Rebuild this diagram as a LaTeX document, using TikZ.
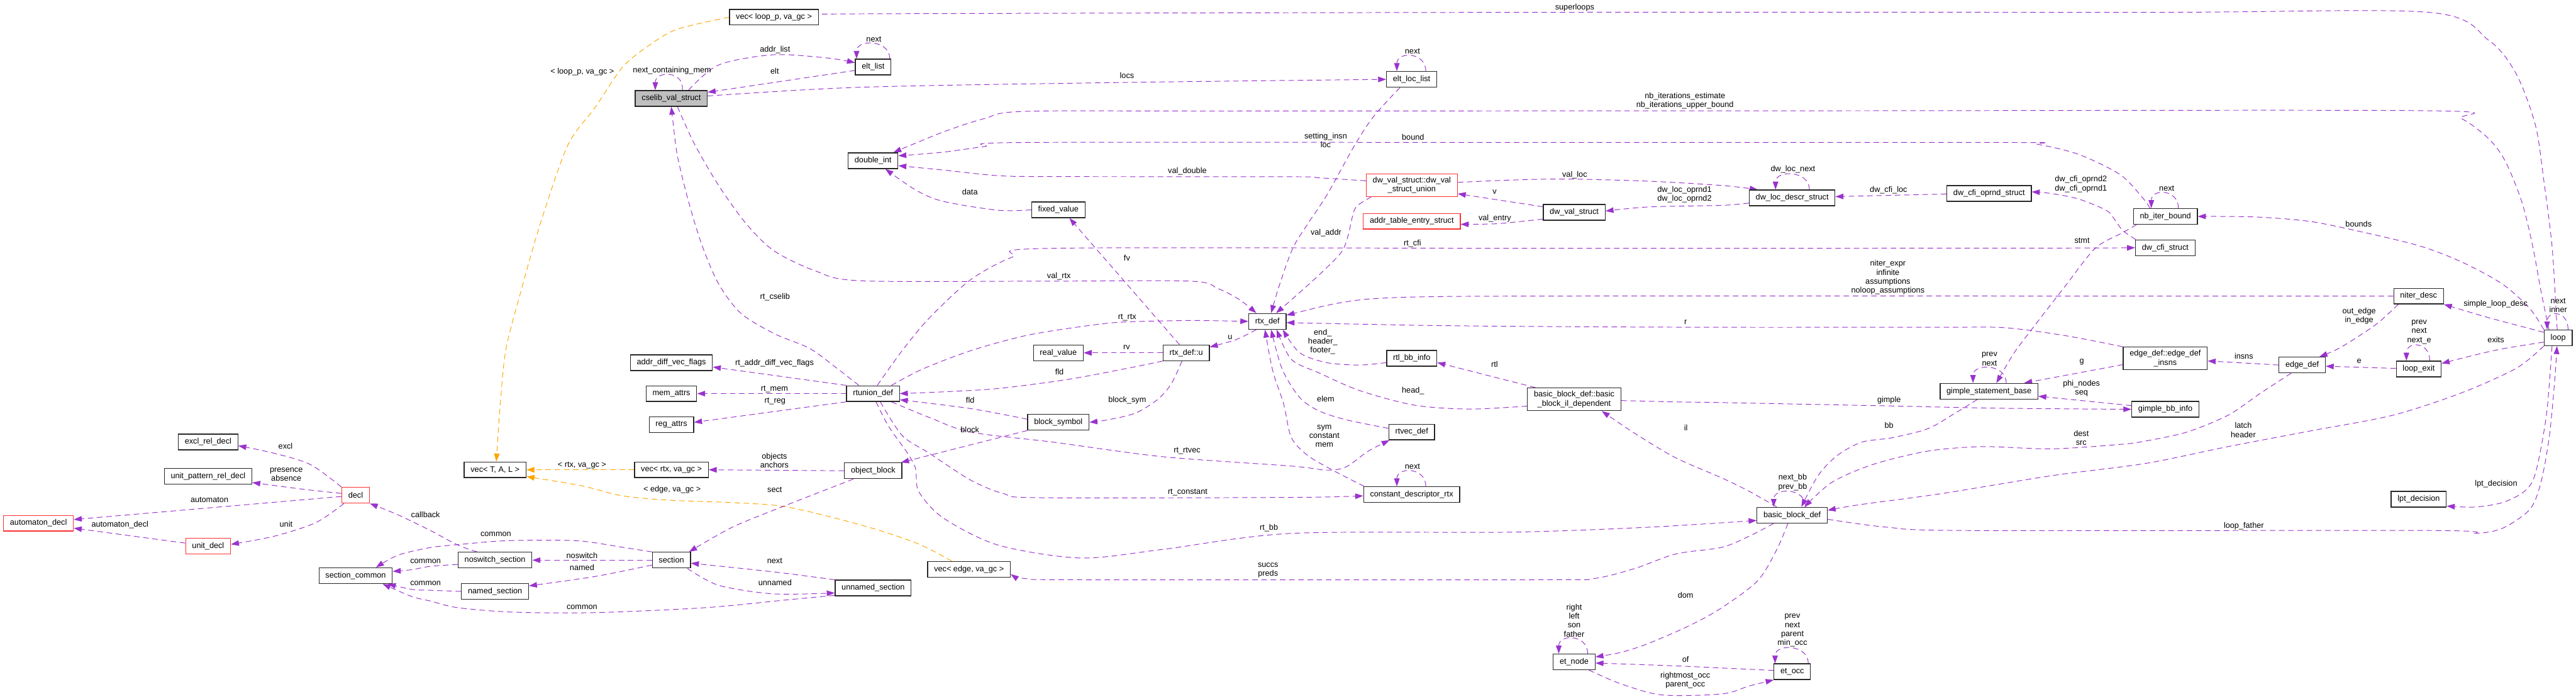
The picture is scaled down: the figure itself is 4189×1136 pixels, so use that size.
\documentclass[tikz,border=0pt]{standalone}
\usepackage{fontspec}
\setmainfont{Liberation Sans}
\usetikzlibrary{arrows.meta}
\definecolor{pur}{HTML}{9A32CD}
\definecolor{org}{HTML}{FFA500}
\definecolor{redb}{HTML}{FF3030}
\definecolor{grayf}{HTML}{BFBFBF}
\pgfdeclarelayer{bg}
\pgfsetlayers{bg,main}
\tikzset{
 box/.style={draw=black!85, line width=1.3pt, fill=white, inner xsep=10.5pt, inner ysep=5pt, minimum height=25.5pt, font=\fontsize{13}{14.8}\selectfont, align=center},
 redbox/.style={box, draw=redb},
 graybox/.style={box, fill=grayf},
 lbl/.style={font=\fontsize{13}{14.6}\selectfont, align=center, inner sep=0pt},
 rel/.style={draw=pur, line width=1pt, dash pattern=on 9pt off 6pt, -{Triangle[length=13pt,width=9pt]}},
 tpl/.style={rel, draw=org},
 sm/.style={smooth, tension=0.5},
}
\begin{document}
\begin{tikzpicture}[x=1pt,y=-1pt]
\useasboundingbox (0,0) rectangle (4189,1136);
% nodes
\node[box] (vecloop) at (1258.5,28) {vec< loop\_p, va\_gc >};
\node[graybox] (cselib) at (1091.6,160) {cselib\_val\_struct};
\node[box] (eltlist) at (1419.9,109) {elt\_list};
\node[box] (eltloc) at (2295.5,129) {elt\_loc\_list};
\node[box] (dint) at (1419.7,261.3) {double\_int};
\node[redbox] (dwunion) at (2295.8,300.9) {dw\_val\_struct::dw\_val\\\_struct\_union};
\node[box] (dwloc) at (2914.3,321.6) {dw\_loc\_descr\_struct};
\node[box] (cfiop) at (3234.6,314.4) {dw\_cfi\_oprnd\_struct};
\node[box] (nbiter) at (3521.3,351.8) {nb\_iter\_bound};
\node[box] (fixed) at (1721,341.1) {fixed\_value};
\node[redbox] (addrtab) at (2295.8,359.6) {addr\_table\_entry\_struct};
\node[box] (dwval) at (2559.9,345.1) {dw\_val\_struct};
\node[box] (cfis) at (3521,402.7) {dw\_cfi\_struct};
\node[box] (rtx) at (2061,522.4) {rtx\_def};
\node[box] (niter) at (3933,481.3) {niter\_desc};
\node[box] (loop) at (4160,549.1) {loop};
\node[box] (adv) at (1091.8,589.6) {addr\_diff\_vec\_flags};
\node[box] (rtun) at (1419.6,639.8) {rtunion\_def};
\node[box] (realv) at (1721,573.5) {real\_value};
\node[box] (rtxu) at (1929,573.5) {rtx\_def::u};
\node[box] (rtlbb) at (2295.8,582.4) {rtl\_bb\_info};
\node[box] (insns) at (3521,582.7) {edge\_def::edge\_def\\\_insns};
\node[box] (edged) at (3743.7,593.3) {edge\_def};
\node[box] (lexit) at (3933.2,599.8) {loop\_exit};
\node[box] (mema) at (1091.8,639.8) {mem\_attrs};
\node[box] (rega) at (1091.8,690.5) {reg\_attrs};
\node[box] (bsym) at (1721,686.4) {block\_symbol};
\node[box] (gsb) at (3234.4,636) {gimple\_statement\_base};
\node[box] (gbb) at (3521.2,665.3) {gimple\_bb\_info};
\node[box] (ildep) at (2559.8,649.1) {basic\_block\_def::basic\\\_block\_il\_dependent};
\node[box] (excl) at (338.4,718.5) {excl\_rel\_decl};
\node[box] (upat) at (338.4,774.4) {unit\_pattern\_rel\_decl};
\node[redbox] (decl) at (578.3,805) {decl};
\node[redbox] (autd) at (62.5,850.5) {automaton\_decl};
\node[redbox] (unitd) at (338.4,887.8) {unit\_decl};
\node[box] (vect) at (805.1,763.6) {vec< T, A, L >};
\node[box] (vecrtx) at (1091.8,763.6) {vec< rtx, va\_gc >};
\node[box] (objb) at (1419.9,765.2) {object\_block};
\node[box] (rtvec) at (2295.6,702.2) {rtvec\_def};
\node[box] (cdesc) at (2295.5,804) {constant\_descriptor\_rtx};
\node[box] (bb) at (2914.3,837.5) {basic\_block\_def};
\node[box] (lpt) at (3933.2,811.6) {lpt\_decision};
\node[box] (scom) at (578.3,935.8) {section\_common};
\node[box] (nosw) at (805,910.5) {noswitch\_section};
\node[box] (named) at (805,961.3) {named\_section};
\node[box] (sect) at (1091.8,910.5) {section};
\node[box] (unnamed) at (1419.9,955.8) {unnamed\_section};
\node[box] (vecedge) at (1575.7,925.3) {vec< edge, va\_gc >};
\node[box] (etnode) at (2559.8,1075.8) {et\_node};
\node[box] (etocc) at (2914.5,1091.8) {et\_occ};
% edges
\begin{pgfonlayer}{bg}
\fill[white] (0,0) rectangle (4189,1136);
\draw[rel] plot[sm] coordinates {([xshift=-1.5pt]loop.north) (4156.7,509) (4150,400) (4136.3,291) (4123,203.6) (4091.7,120) (4047,65.5) (3948.8,20) (3500,20) (2500,20) (1400,22.5) ([yshift=3pt]vecloop.east)};
\draw[tpl] plot[sm] coordinates {(vecloop.west) (1101.8,47.3) (1057,72.7) (1012.5,109) (967.9,174.5) (923.2,236.4) (878.6,363.6) (847.3,472.7) (822.8,567.3) (813.8,653.3) ([xshift=2pt]vect.north)};
\draw[rel] ([xshift=18pt]cselib.north) .. controls +(4,-32) and +(0,-32) .. ([xshift=-26pt]cselib.north);
\draw[rel] plot[sm] coordinates {([xshift=28pt]cselib.north) (1168.8,105.5) (1258,89) (1347.3,94.5) ([yshift=7pt]eltlist.west)};
\draw[rel] ([yshift=-5.5pt]eltlist.west) -- ([yshift=10pt]cselib.east);
\draw[rel] ([xshift=27pt]eltlist.north) .. controls +(0,-32) and +(0,-32) .. ([xshift=-27pt]eltlist.north);
\draw[rel] plot[sm] coordinates {([yshift=4pt]cselib.east) (1400,141.8) (1830,134) (eltloc.west)};
\draw[rel] ([xshift=23pt]eltloc.north) .. controls +(0,-32) and +(0,-32) .. ([xshift=-24pt]eltloc.north);
\draw[rel] plot[sm] coordinates {([xshift=-19pt]eltloc.south) (2233.9,189) (2202.7,236.4) (2158,316.4) (2126.8,363.6) (2102.2,403.6) (2080,465) ([xshift=6pt]rtx.north)};
\draw[rel] plot[sm] coordinates {([xshift=-15pt]loop.north) (4131.9,472.7) (4118.5,400) (4100.6,327.3) (4073.8,261.8) (4047,225.5) (4002.4,192.7) (3948.8,180) (3000,180) (2000,180.5) (1667.9,181) (1600.9,192.7) (1533.9,214.5) ([xshift=33pt]dint.north)};
\draw[rel] plot[sm] coordinates {([xshift=-25pt]nbiter.north) (3483,320) (3447.3,283.6) (3380.4,251) (3313.4,234.5) (3268.8,231.6) (2500,231.6) (1667.9,231.6) (1600.9,238.2) (1533.9,247.3) ([yshift=8pt]dint.east)};
\draw[rel] plot[sm] coordinates {([yshift=7pt]dwunion.west) (2144.6,289) (2100,287.3) (1712.5,287) (1623.2,285.5) (1533.9,276.4) ([yshift=-8pt]dint.east)};
\draw[rel] plot[sm] coordinates {(fixed.west) (1623.2,341.8) (1533.9,327.3) (1489.3,309) ([xshift=20pt]dint.south)};
\draw[rel] ([xshift=-11pt]rtxu.north) -- ([xshift=18pt]fixed.south);
\draw[rel] (rtxu.west) -- (realv.east);
\draw[rel] plot[sm] coordinates {([xshift=-18pt]rtx.south) (2010,552) ([yshift=-4pt]rtxu.north east)};
\draw[rel] plot[sm] coordinates {(rtxu.south west) (1824,600.5) (1734.8,617) (1623.2,631.5) (1534,636.9) (rtun.east)};
\draw[rel] plot[sm] coordinates {([yshift=5pt]bsym.west) (1578.6,664.2) ([yshift=-10pt]rtun.east)};
\draw[rel] plot[sm] coordinates {([xshift=-7pt]rtxu.south) (1904.5,624.2) (1882.1,649.6) (1846.4,671.5) (1801.8,682.4) (bsym.east)};
\draw[rel] (bsym.south west) -- ([xshift=-2pt]objb.north east);
\draw[rel] (objb.west) -- (vecrtx.east);
\draw[tpl] (vecrtx.west) -- (vect.east);
\draw[tpl] plot[sm] coordinates {([xshift=-28pt]vecedge.north) (1489.3,882.4) (1400,853.3) (1280.4,824.2) (1191,817) (1092.9,813.3) (1012.5,806) (945.5,789.6) ([yshift=-11pt]vect.east)};
\draw[rel] plot[sm] coordinates {([xshift=-32pt]objb.south) (1280.4,820.5) (1191,856.9) ([xshift=-3pt]sect.north east)};
\draw[rel] plot[sm] coordinates {([xshift=-29pt]nosw.north) (744.6,886) (700,862.4) (647.3,836.9) (decl.south east)};
\draw[rel] plot[sm] coordinates {([yshift=-7pt]nosw.west) (700,920.5) (669.6,926) ([yshift=7pt]scom.east)};
\draw[rel] plot[sm] coordinates {(named.west) (700,959.5) (669.6,958) ([xshift=-8pt]scom.south east)};
\draw[rel] plot[sm] coordinates {(sect.north west) (1012.5,889.6) (945.5,879.5) (878.6,878) (811.6,879.5) (744.6,885.3) (700,890) (647.3,902.4) ([xshift=33pt]scom.north)};
\draw[rel] plot[sm] coordinates {([yshift=-12pt]unnamed.west) (1280.4,975) (1146.4,987.8) (967.9,995.8) (833.9,995) (744.6,987.8) (700,977) (669.6,969.6) ([xshift=44pt]scom.south)};
\draw[rel] (sect.west) -- (nosw.east);
\draw[rel] plot[sm] coordinates {([yshift=-8pt]sect.west) (967.9,937) ([yshift=9pt]named.east)};
\draw[rel] plot[sm] coordinates {(unnamed.north west) (1258,929.6) ([yshift=-5pt]sect.east)};
\draw[rel] plot[sm] coordinates {([xshift=26pt]sect.south) (1168.8,951.5) (1258,965.3) ([yshift=-8pt]unnamed.west)};
\draw[rel] plot[sm] coordinates {(decl.north west) (504.5,755) (446.4,736.9) ([yshift=-6pt]excl.east)};
\draw[rel] plot[sm] coordinates {([yshift=3pt]decl.west) (491,795) ([yshift=-10pt]upat.east)};
\draw[rel] ([yshift=-2pt]decl.west) -- ([yshift=6pt]autd.east);
\draw[rel] plot[sm] coordinates {([xshift=-19pt]decl.south) (513.4,849.6) (446.4,871.5) ([yshift=3pt]unitd.east)};
\draw[rel] ([yshift=5pt]unitd.west) -- ([yshift=-8pt]autd.east);
\draw[rel] (rtun.north west) -- ([yshift=-7pt]adv.east);
\draw[rel] (rtun.west) -- (mema.east);
\draw[rel] (rtun.south west) -- ([yshift=4pt]rega.east);
\draw[rel] plot[sm] coordinates {([xshift=-23pt]rtun.north) (1356.3,595) (1316,566) (1258,541.8) (1204.5,509) (1168.8,461.8) (1142,400) (1119.6,327.3) (1101.8,254.5) (1095,203.6) (cselib.south)};
\draw[rel] plot[sm] coordinates {([xshift=10pt]cselib.south) (1128.6,232.7) (1168.8,301.8) (1213.4,363.6) (1258,407.3) (1325,440) (1400,456.4) (1700,457) (1935.7,457) (1980.4,469) (2016,487.3) ([xshift=-18pt]rtx.north)};
\draw[rel] plot[sm] coordinates {([xshift=30pt]rtun.north) (1500,600) (1578.6,570) (1667.9,545.5) (1757,531) (1824,523.6) (1935.7,521) (rtx.west)};
\draw[rel] plot[sm] coordinates {([xshift=7pt]rtun.north) (1467,570) (1511.6,516.4) (1578.6,454.5) (1645.5,418.2) (1712.5,403.6) (2500,403.6) (3300,403.3) (cfis.west)};
\draw[rel] plot[sm] coordinates {([xshift=-66pt]dwunion.south) (2207,334.5) (2200,349) (2191.5,385.5) (2180.4,411) (2144.6,447.3) (2100,487.3) ([xshift=14pt]rtx.north)};
\draw[rel] plot[sm] coordinates {(niter.west) (3500,481.3) (2800,481) (2367.9,481.8) (2234,485.5) (2167,494.5) ([yshift=10pt]rtx.east)};
\draw[rel] plot[sm] coordinates {(insns.north west) (3358,545.5) (3259.8,532.7) (3157,532) (2800,532) (2546,531) (2323,529) ([yshift=-2pt]rtx.east)};
\draw[rel] plot[sm] coordinates {([yshift=-7pt]rtlbb.west) (2211.6,593.3) (2158,589.6) (2113.4,573.3) ([xshift=25pt]rtx.south)};
\draw[rel] plot[sm] coordinates {([yshift=-11pt]ildep.west) (2390.2,664.9) (2300.9,658.7) (2211.6,635.1) (2144.6,606) (2100,584.2) ([xshift=15pt]rtx.south)};
\draw[rel] plot[sm] coordinates {([yshift=6pt]rtvec.west) (2189.3,682.4) (2144.6,667.8) (2113.4,646) (2085,600) ([xshift=6pt]rtx.south)};
\draw[rel] plot[sm] coordinates {([xshift=-77pt]cdesc.north) (2167,764.2) (2126.8,740.5) (2100,711.5) (2087.5,657) (2069.6,602.4) ([xshift=-4pt]rtx.south)};
\draw[rel] plot[sm] coordinates {([xshift=30pt]rtun.south) (1511.6,678.7) (1578.6,702.4) (1712.5,718.7) (1891,742.4) (2100,757.6) (2158,764.2) (2189.3,758.7) (2225,733.3) ([xshift=-36pt]rtvec.south)};
\draw[rel] plot[sm] coordinates {([xshift=12pt]rtun.south) (1467,707.8) (1511.6,737) (1578.6,780.5) (1632,802.4) (1690,809) (2100,808.5) ([yshift=-2pt]cdesc.west)};
\draw[rel] plot[sm] coordinates {([xshift=5pt]rtun.south) (1445,693) (1476,737) (1489,762) (1494,799) (1534,842) (1623,886) (1757,907) (1891,893) (2100,867) (2457,865) (2680,857) ([yshift=-8.5pt]bb.west)};
\draw[rel] ([xshift=23pt]cdesc.north) .. controls +(0,-32) and +(0,-32) .. ([xshift=-24pt]cdesc.north);
\draw[rel] ([xshift=22pt]bb.north) .. controls +(0,-32) and +(0,-32) .. ([xshift=-30pt]bb.north);
\draw[rel] plot[sm] coordinates {([xshift=-25pt]bb.north) (2844.6,798.7) (2800,776.9) (2725,744.2) (2658,704.2) ([xshift=45pt]ildep.south)};
\draw[rel] plot[sm] coordinates {([xshift=-7pt]bb.south) (2889.3,893.3) (2858,944.2) (2800,987.8) (2747.3,1016.9) (2680.4,1046) (2635.7,1060.5) ([yshift=8pt]etnode.east)};
\draw[rel] plot[sm] coordinates {([xshift=-19pt]gsb.south) (3179.5,671.5) (3134.8,696.9) (3076.8,711.5) (3027.7,718.7) (2987.5,740.5) (2956.3,773.3) ([xshift=15pt]bb.north)};
\draw[rel] plot[sm] coordinates {([xshift=-18pt]edged.south) (3676.5,638.7) (3623,675) (3556,702.4) (3489,716.9) (3447.3,722.4) (3335.7,729.6) (3224.1,726) (3134.8,733.3) (3045.5,755) (2978.6,784.2) ([xshift=20pt]bb.north)};
\draw[rel] plot[sm] coordinates {(loop.south west) (4091.7,598.7) (4002.4,638.7) (3890.8,675) (3756.8,700.5) (3622.9,726) (3489,753.3) (3335.7,773.3) (3157,802.4) (3023.2,820.5) ([yshift=8pt]bb.east)};
\draw[rel] plot[sm] coordinates {([yshift=-6.5pt]bb.east) (3067.9,856.9) (3201.8,862.4) (3957.7,862.4) (4024.7,867) (4069.4,858.7) (4114,827.8) (4131.9,784.2) (4145.3,711.5) (4154.2,620.5) ([xshift=-2pt]loop.south)};
\draw[rel] plot[sm] coordinates {([xshift=-10pt]loop.south) (4140.8,675) (4122.9,769.6) (4105,798.7) (4069.4,816.9) (4024.7,824.2) ([yshift=-11pt]lpt.east)};
\draw[rel] plot[sm] coordinates {([yshift=9pt]loop.west) (4047,516.4) (niter.south east)};
\draw[rel] plot[sm] coordinates {([yshift=-7pt]loop.west) (4069.4,567) (4024.7,577) ([yshift=9pt]lexit.east)};
\draw[rel] plot[sm] coordinates {(loop.north west) (4114,501.8) (4069.4,461.8) (4002.4,425.5) (3935.4,400) (3846.1,378.2) (3756.8,360) (3667.6,352.7) (nbiter.east)};
\draw[rel] ([xshift=16pt]loop.north) .. controls +(0,-32) and +(0,-32) .. ([xshift=-18pt]loop.north);
\draw[rel] plot[sm] coordinates {([xshift=-33pt]niter.south) (3868.5,523.6) (3837.2,545.5) (3801.5,567.3) ([xshift=28pt]edged.north)};
\draw[rel] ([yshift=1pt]lexit.west) -- ([yshift=-2pt]edged.east);
\draw[rel] ([xshift=18pt]lexit.north) .. controls +(0,-32) and +(0,-32) .. ([xshift=-20pt]lexit.north);
\draw[rel] (edged.west) -- ([yshift=-4pt]insns.east);
\draw[rel] ([yshift=-10pt]insns.west) -- ([xshift=-23pt]gsb.north east);
\draw[rel] ([yshift=6pt]gbb.west) -- ([yshift=-8pt]gsb.east);
\draw[rel] ([xshift=28pt]gsb.north) .. controls +(0,-32) and +(0,-32) .. ([xshift=-26pt]gsb.north);
\draw[rel] plot[sm] coordinates {([yshift=-2pt]ildep.east) (2725,653.3) (2800,654.4) (3072.3,659.8) (3246.4,663.5) (gbb.west)};
\draw[rel] ([xshift=-63pt]ildep.north) -- ([yshift=-7pt]rtlbb.east);
\draw[rel] plot[sm] coordinates {([xshift=-30pt]bb.south) (2844.6,871.5) (2800,889.6) (2725,900.5) (2658,924.2) (2591,940.5) (2501.8,942.4) (1757,942.4) (1667.9,940.5) ([yshift=-8pt]vecedge.east)};
\draw[rel] ([xshift=22pt]etnode.north) .. controls +(0,-32) and +(0,-32) .. ([xshift=-25pt]etnode.north);
\draw[rel] plot[sm] coordinates {([xshift=24pt]etnode.south) (2635.7,1111.5) (2702.7,1129.6) (2800,1128) (2844.6,1115) (etocc.south west)};
\draw[rel] plot[sm] coordinates {([yshift=2pt]etocc.west) (2725,1082.4) ([yshift=-2pt]etnode.east)};
\draw[rel] ([xshift=26pt]etocc.north) .. controls +(0,-32) and +(0,-32) .. ([xshift=-28pt]etocc.north);
\draw[rel] ([yshift=9pt]dwval.west) -- ([yshift=-14pt]dwunion.east);
\draw[rel] plot[sm] coordinates {([yshift=-11pt]dwval.west) (2434.8,363.6) ([yshift=-5pt]addrtab.east)};
\draw[rel] plot[sm] coordinates {([yshift=4.5pt]dwunion.east) (2457.1,292.7) (2546.4,291) (2680.4,294.5) (2800,301.5) ([xshift=-56pt]dwloc.north)};
\draw[rel] plot[sm] coordinates {([yshift=-8.5pt]dwloc.west) (2800,333.8) (2680.4,336.4) ([yshift=2pt]dwval.east)};
\draw[rel] ([xshift=28pt]dwloc.north) .. controls +(0,-32) and +(0,-32) .. ([xshift=-27pt]dwloc.north);
\draw[rel] ([yshift=-1pt]cfiop.west) -- ([yshift=2pt]dwloc.east);
\draw[rel] plot[sm] coordinates {([xshift=-48pt]cfis.north) (3451.8,374.5) (3438.4,356.4) (3425,341.8) (3380.4,323.6) (3335.7,314.5) ([yshift=2.5pt]cfiop.east)};
\draw[rel] plot[sm] coordinates {([xshift=-47pt]nbiter.south) (3451.8,378.2) (3407.1,403.6) (3358,465.5) (3304.5,534.5) (3277.7,570) (3264.3,591.5) ([xshift=12pt]gsb.north)};
\draw[rel] ([xshift=21pt]nbiter.north) .. controls +(0,-32) and +(0,-32) .. ([xshift=-23pt]nbiter.north);
\end{pgfonlayer}
% labels
\node[lbl] (l1) at (2560.7,12) {superloops};
\node[lbl] (l2) at (946.9,117.1) {< loop\_p, va\_gc >};
\node[lbl] (l3) at (1092.9,114.9) {next\_containing\_mem};
\node[lbl] (l4) at (1260.3,80.7) {addr\_list};
\node[lbl] (l5) at (1259.8,115.6) {elt};
\node[lbl] (l6) at (1421,63.6) {next};
\node[lbl] (l7) at (1832.6,122.5) {locs};
\node[lbl] (l8) at (2296.9,83.6) {next};
\node[lbl] (l9) at (2155.8,228) {setting\_insn\\loc};
\node[lbl] (l10) at (2740,164) {nb\_iterations\_estimate\\nb\_iterations\_upper\_bound};
\node[lbl] (l11) at (2297.8,223.3) {bound};
\node[lbl] (l12) at (1930.8,278.5) {val\_double};
\node[lbl] (l13) at (1577.2,311.6) {data};
\node[lbl] (l14) at (1832.6,419.3) {fv};
\node[lbl] (l15) at (1832.1,564.7) {rv};
\node[lbl] (l16) at (2000.4,548) {u};
\node[lbl] (l17) at (1722.8,604.2) {fld};
\node[lbl] (l18) at (1577.7,650.4) {fld};
\node[lbl] (l19) at (1833,650.4) {block\_sym};
\node[lbl] (l20) at (1577.2,698.4) {block};
\node[lbl] (l21) at (1259.4,748.5) {objects\\anchors};
\node[lbl] (l22) at (946.4,756.2) {< rtx, va\_gc >};
\node[lbl] (l23) at (1092.9,796.2) {< edge, va\_gc >};
\node[lbl] (l24) at (1259.8,795.8) {sect};
\node[lbl] (l25) at (692,836.9) {callback};
\node[lbl] (l26) at (692,912.2) {common};
\node[lbl] (l27) at (692,947.8) {common};
\node[lbl] (l28) at (806.3,868.9) {common};
\node[lbl] (l29) at (946.4,987.1) {common};
\node[lbl] (l30) at (946.4,902.7) {noswitch};
\node[lbl] (l31) at (946.4,922.7) {named};
\node[lbl] (l32) at (1259.8,911.8) {next};
\node[lbl] (l33) at (1260.3,946.7) {unnamed};
\node[lbl] (l34) at (464.3,724.9) {excl};
\node[lbl] (l35) at (465.6,771.5) {presence\\absence};
\node[lbl] (l36) at (340.6,812.2) {automaton};
\node[lbl] (l37) at (465.2,852.2) {unit};
\node[lbl] (l38) at (195.1,852.9) {automaton\_decl};
\node[lbl] (l39) at (1259.4,590.7) {rt\_addr\_diff\_vec\_flags};
\node[lbl] (l40) at (1259.4,632.2) {rt\_mem};
\node[lbl] (l41) at (1260.3,652.2) {rt\_reg};
\node[lbl] (l42) at (1260.3,482.5) {rt\_cselib};
\node[lbl] (l43) at (1721.9,448.7) {val\_rtx};
\node[lbl] (l44) at (1833,515.6) {rt\_rtx};
\node[lbl] (l45) at (2296.9,395.6) {rt\_cfi};
\node[lbl] (l46) at (2156.3,378.9) {val\_addr};
\node[lbl] (l47) at (3070,450.9) {niter\_expr\\infinite\\assumptions\\noloop\_assumptions};
\node[lbl] (l48) at (2741,524) {r};
\node[lbl] (l49) at (2151,555.6) {end\_\\header\_\\footer\_};
\node[lbl] (l50) at (2297.8,635.5) {head\_};
\node[lbl] (l51) at (2155.8,648.5) {elem};
\node[lbl] (l52) at (2153.6,708.9) {sym\\constant\\mem};
\node[lbl] (l53) at (1930.4,732.9) {rt\_rtvec};
\node[lbl] (l54) at (1931.3,800.9) {rt\_constant};
\node[lbl] (l55) at (2063.4,858.7) {rt\_bb};
\node[lbl] (l56) at (2296.9,758.7) {next};
\node[lbl] (l57) at (2915.2,784.2) {next\_bb\\prev\_bb};
\node[lbl] (l58) at (2741.5,695.1) {il};
\node[lbl] (l59) at (2741,967.8) {dom};
\node[lbl] (l60) at (3071.9,691.5) {bb};
\node[lbl] (l61) at (3384.4,711.5) {dest\\src};
\node[lbl] (l62) at (3647.9,699.1) {latch\\header};
\node[lbl] (l63) at (3648.8,854.7) {loop\_father};
\node[lbl] (l64) at (4059.1,786.7) {lpt\_decision};
\node[lbl] (l65) at (4058.2,494.5) {simple\_loop\_desc};
\node[lbl] (l66) at (4058.6,552.7) {exits};
\node[lbl] (l67) at (3835.4,364.4) {bounds};
\node[lbl] (l68) at (4160,496.4) {next\\inner};
\node[lbl] (l69) at (3836.3,513.8) {out\_edge\\in\_edge};
\node[lbl] (l70) at (3836.3,587.1) {e};
\node[lbl] (l71) at (3934,539.6) {prev\\next\\next\_e};
\node[lbl] (l72) at (3648.8,578.7) {insns};
\node[lbl] (l73) at (3385.3,588.9) {g};
\node[lbl] (l74) at (3384.8,631.5) {phi\_nodes\\seq};
\node[lbl] (l75) at (3235.3,583.5) {prev\\next};
\node[lbl] (l76) at (3071.9,650.7) {gimple};
\node[lbl] (l77) at (2430.4,592.2) {rtl};
\node[lbl] (l78) at (2062,927.1) {succs\\preds};
\node[lbl] (l79) at (2559.8,1008.5) {right\\left\\son\\father};
\node[lbl] (l80) at (2740.6,1106) {rightmost\_occ\\parent\_occ};
\node[lbl] (l81) at (2741,1071.5) {of};
\node[lbl] (l82) at (2914.7,1024.9) {prev\\next\\parent\\min\_occ};
\node[lbl] (l83) at (2430.4,312) {v};
\node[lbl] (l84) at (2430.8,354.9) {val\_entry};
\node[lbl] (l85) at (2560.7,284.4) {val\_loc};
\node[lbl] (l86) at (2739.3,316) {dw\_loc\_oprnd1\\dw\_loc\_oprnd2};
\node[lbl] (l87) at (2915.6,275.6) {dw\_loc\_next};
\node[lbl] (l88) at (3071,308.7) {dw\_cfi\_loc};
\node[lbl] (l89) at (3383.9,299.3) {dw\_cfi\_oprnd2\\dw\_cfi\_oprnd1};
\node[lbl] (l90) at (3385.7,391.6) {stmt};
\node[lbl] (l91) at (3523.4,306.5) {next};
\end{tikzpicture}
\end{document}
